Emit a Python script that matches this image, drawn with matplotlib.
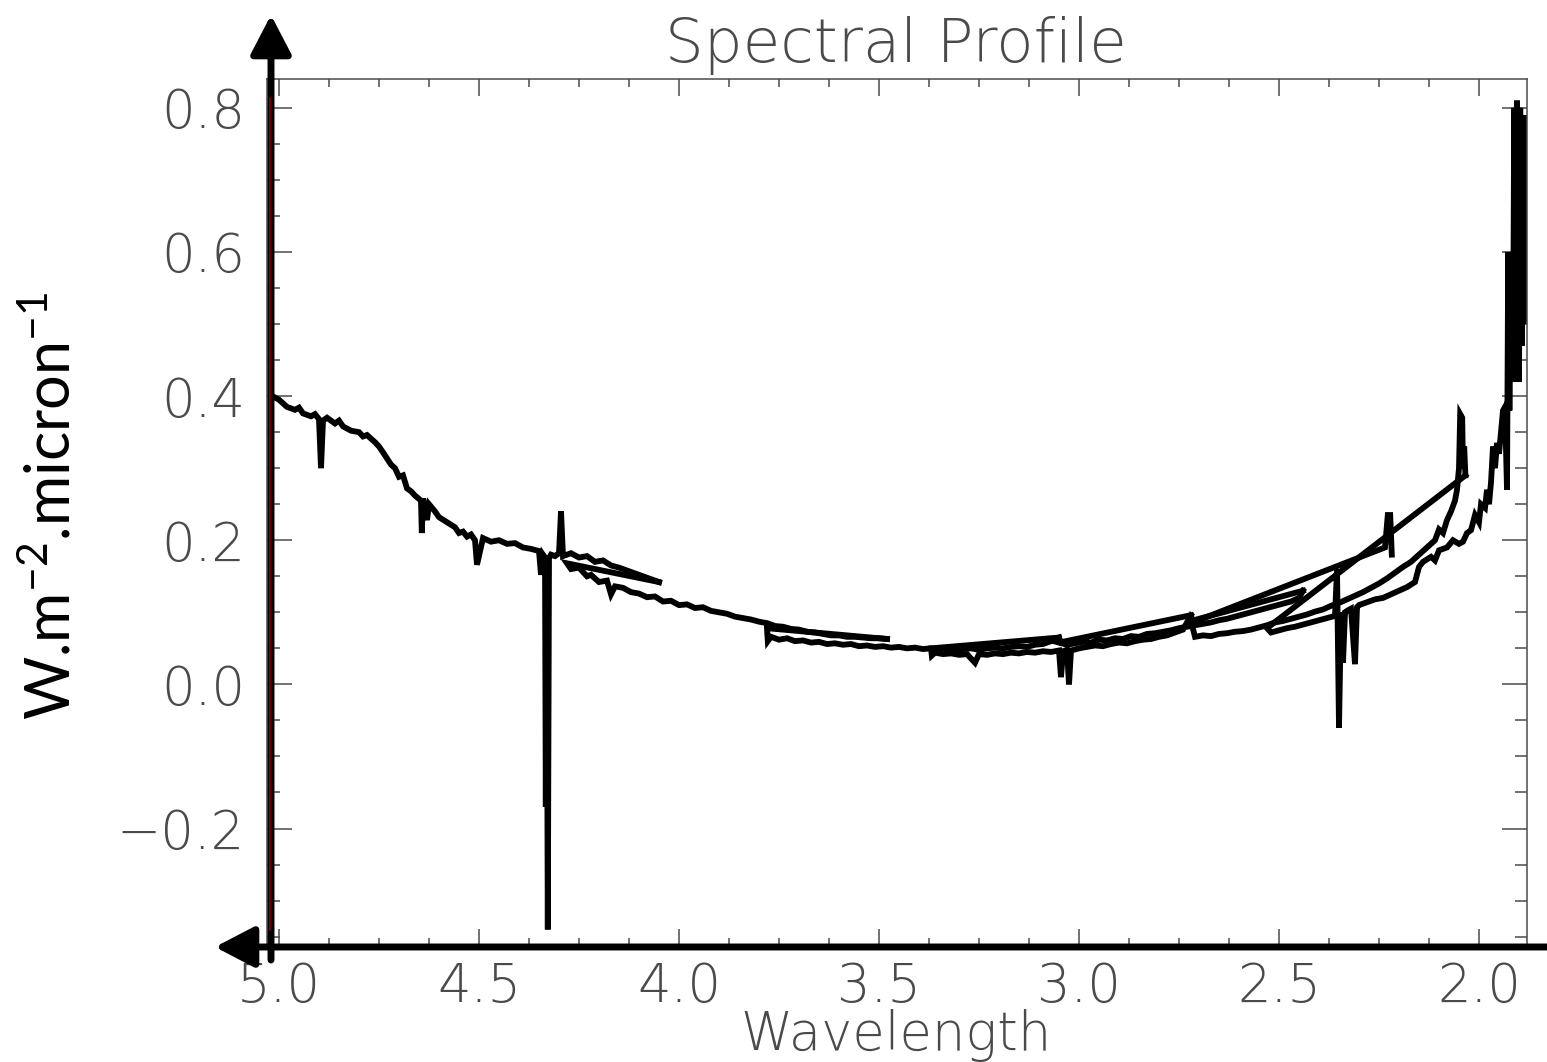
import matplotlib
matplotlib.use("Agg")
import matplotlib.pyplot as plt
from matplotlib.patches import FancyArrowPatch
from matplotlib.ticker import MultipleLocator
from matplotlib.lines import Line2D

plt.rcParams['mathtext.default'] = 'regular'
plt.rcParams['axes.unicode_minus'] = True

# ---------------- data ----------------
title_text = "Spectral Profile"
xlabel_text = "Wavelength"
ylabel_text = "W.m$^{-2}$.micron$^{-1}$"

s1_x = [5.02, 5.00, 4.98, 4.96, 4.95, 4.94, 4.92, 4.91, 4.90, 4.895, 4.89, 4.88, 4.86, 4.85,
        4.84, 4.82, 4.80, 4.79, 4.78, 4.76, 4.75, 4.74, 4.72, 4.71, 4.70, 4.69, 4.68, 4.67,
        4.66, 4.645, 4.643, 4.64, 4.63, 4.625, 4.61, 4.60, 4.58, 4.56, 4.55, 4.54, 4.53, 4.52,
        4.51, 4.505, 4.49, 4.47, 4.45, 4.43, 4.41, 4.39, 4.37, 4.35, 4.345, 4.34, 4.335, 4.333,
        4.331, 4.328, 4.325, 4.32, 4.31, 4.30, 4.295, 4.29, 4.27, 4.25, 4.23, 4.21, 4.19, 4.17,
        4.15, 4.13, 4.11, 4.09, 4.07, 4.05]
s1_y = [0.401, 0.395, 0.385, 0.381, 0.384, 0.376, 0.372, 0.375, 0.368, 0.300, 0.366, 0.370, 0.362, 0.366,
        0.358, 0.352, 0.350, 0.344, 0.346, 0.336, 0.330, 0.322, 0.305, 0.300, 0.288, 0.290, 0.272, 0.268,
        0.262, 0.255, 0.210, 0.258, 0.228, 0.250, 0.240, 0.232, 0.225, 0.218, 0.210, 0.212, 0.205, 0.208,
        0.200, 0.166, 0.203, 0.198, 0.200, 0.195, 0.196, 0.190, 0.188, 0.185, 0.152, 0.180, 0.176, -0.17,
        0.170, -0.34, 0.175, 0.180, 0.178, 0.182, 0.240, 0.178, 0.182, 0.176, 0.178, 0.170, 0.172, 0.165,
        0.162, 0.158, 0.154, 0.150, 0.146, 0.142]

s2_x = [4.05, 4.28, 4.27, 4.25, 4.23, 4.22, 4.20, 4.18, 4.17, 4.16, 4.14, 4.12, 4.10, 4.08, 4.06,
        4.04, 4.02, 4.00, 3.98, 3.96, 3.94, 3.92, 3.90, 3.88, 3.86, 3.84, 3.82, 3.80, 3.78, 3.76,
        3.74, 3.72, 3.70, 3.68, 3.66, 3.64, 3.62, 3.60, 3.58, 3.56, 3.54, 3.52, 3.50, 3.48]
s2_y = [0.142, 0.168, 0.160, 0.162, 0.150, 0.152, 0.142, 0.144, 0.125, 0.136, 0.134, 0.128, 0.126, 0.121, 0.122,
        0.115, 0.116, 0.110, 0.111, 0.106, 0.107, 0.102, 0.100, 0.098, 0.094, 0.092, 0.090, 0.087, 0.085, 0.081,
        0.080, 0.077, 0.076, 0.073, 0.072, 0.070, 0.068, 0.068, 0.066, 0.066, 0.065, 0.064, 0.064, 0.063]

s3_x = [3.48, 3.78, 3.778, 3.77, 3.75, 3.73, 3.71, 3.69, 3.67, 3.65, 3.63, 3.61, 3.59, 3.57, 3.55,
        3.53, 3.51, 3.49, 3.47, 3.45, 3.43, 3.41, 3.39, 3.37, 3.35, 3.33, 3.31, 3.29, 3.27, 3.25,
        3.23, 3.21, 3.19, 3.17, 3.15, 3.13, 3.11, 3.09, 3.07, 3.05]
s3_y = [0.063, 0.078, 0.060, 0.066, 0.062, 0.064, 0.060, 0.061, 0.058, 0.059, 0.056, 0.057, 0.055, 0.056, 0.053,
        0.054, 0.052, 0.053, 0.051, 0.052, 0.050, 0.051, 0.049, 0.050, 0.049, 0.050, 0.048, 0.049, 0.050, 0.048,
        0.050, 0.051, 0.050, 0.052, 0.053, 0.052, 0.055, 0.056, 0.060, 0.065]

s4_x = [3.05, 3.37, 3.368, 3.36, 3.34, 3.32, 3.30, 3.28, 3.26, 3.25, 3.23, 3.21, 3.19, 3.17, 3.15,
        3.13, 3.11, 3.09, 3.07, 3.05, 3.045, 3.04, 3.03, 3.025, 3.02, 3.00, 2.98, 2.96, 2.94, 2.92,
        2.90, 2.88, 2.86, 2.84, 2.82, 2.80, 2.78, 2.76, 2.74, 2.72]
s4_y = [0.065, 0.050, 0.040, 0.044, 0.042, 0.043, 0.041, 0.042, 0.030, 0.042, 0.041, 0.043, 0.042, 0.044, 0.043,
        0.045, 0.044, 0.046, 0.045, 0.047, 0.010, 0.046, 0.048, 0.000, 0.047, 0.050, 0.052, 0.054, 0.053, 0.056,
        0.058, 0.057, 0.060, 0.062, 0.063, 0.066, 0.068, 0.072, 0.076, 0.096]

s5_x = [2.72, 3.05, 3.03, 3.01, 2.99, 2.97, 2.95, 2.93, 2.91, 2.89, 2.87, 2.85, 2.83, 2.81, 2.79,
        2.77, 2.75, 2.73, 2.71, 2.69, 2.67, 2.65, 2.63, 2.61, 2.59, 2.57, 2.55, 2.53, 2.51, 2.49,
        2.47, 2.45, 2.44]
s5_y = [0.096, 0.058, 0.055, 0.057, 0.059, 0.058, 0.062, 0.061, 0.064, 0.063, 0.067, 0.066, 0.070, 0.071, 0.073,
        0.075, 0.078, 0.080, 0.082, 0.084, 0.086, 0.089, 0.091, 0.094, 0.097, 0.100, 0.103, 0.106, 0.109, 0.112,
        0.115, 0.120, 0.130]

s6_x = [2.44, 2.72, 2.71, 2.69, 2.67, 2.65, 2.63, 2.61, 2.59, 2.57, 2.55, 2.53, 2.51, 2.49, 2.47,
        2.45, 2.43, 2.41, 2.39, 2.37, 2.35, 2.33, 2.31, 2.29, 2.27, 2.25, 2.23, 2.21, 2.19, 2.17,
        2.15, 2.13, 2.11, 2.10, 2.09, 2.08, 2.07, 2.06, 2.055, 2.05, 2.047, 2.042, 2.04, 2.037, 2.034]
s6_y = [0.130, 0.088, 0.066, 0.068, 0.067, 0.070, 0.071, 0.073, 0.074, 0.076, 0.079, 0.082, 0.086, 0.088, 0.091,
        0.094, 0.097, 0.101, 0.104, 0.109, 0.113, 0.118, 0.123, 0.128, 0.134, 0.140, 0.147, 0.155, 0.163, 0.170,
        0.180, 0.190, 0.200, 0.215, 0.210, 0.228, 0.240, 0.255, 0.270, 0.300, 0.375, 0.370, 0.300, 0.330, 0.290]

s7_x = [2.034, 2.53, 2.52, 2.50, 2.48, 2.46, 2.44, 2.42, 2.40, 2.38, 2.36, 2.355, 2.35, 2.345, 2.34,
        2.335, 2.33, 2.32, 2.31, 2.305, 2.30, 2.28, 2.26, 2.24, 2.22, 2.20, 2.18, 2.16, 2.15, 2.14,
        2.12, 2.11, 2.10, 2.08, 2.065, 2.05, 2.04, 2.03, 2.02, 2.01, 2.00, 1.995, 1.985, 1.98, 1.975,
        1.97, 1.965, 1.96, 1.955, 1.95, 1.94, 1.935, 1.93, 1.927, 1.924, 1.92, 1.915, 1.912, 1.908, 1.905,
        1.90, 1.897, 1.893, 1.89, 1.887, 1.884, 1.882, 1.88]
s7_y = [0.290, 0.078, 0.072, 0.075, 0.078, 0.080, 0.083, 0.086, 0.089, 0.092, 0.095, 0.160, -0.060, 0.100, 0.030,
        0.100, 0.102, 0.105, 0.028, 0.107, 0.110, 0.114, 0.118, 0.120, 0.125, 0.130, 0.135, 0.142, 0.163, 0.170,
        0.177, 0.172, 0.186, 0.190, 0.200, 0.195, 0.198, 0.210, 0.214, 0.235, 0.225, 0.250, 0.245, 0.270, 0.250,
        0.280, 0.330, 0.300, 0.335, 0.320, 0.380, 0.385, 0.270, 0.600, 0.380, 0.600, 0.420, 0.800, 0.470, 0.810,
        0.420, 0.800, 0.470, 0.720, 0.500, 0.790, 0.550, 0.650]

s8_x = [2.72, 2.235, 2.228, 2.222, 2.218]
s8_y = [0.085, 0.190, 0.235, 0.235, 0.180]

segments = [(s1_x, s1_y), (s2_x, s2_y), (s3_x, s3_y), (s4_x, s4_y),
            (s5_x, s5_y), (s6_x, s6_y), (s7_x, s7_y), (s8_x, s8_y)]

x_major, x_minor = 0.5, 0.125
y_major, y_minor = 0.2, 0.05
xlim = (5.03, 1.88)
ylim = (-0.363, 0.840)

# ---------------- figure ----------------
W, H = 1547, 1062
fig = plt.figure(figsize=(W / 100, H / 100), dpi=100)
ax = fig.add_axes([267 / W, 1 - 946 / H, (1527 - 267) / W, (946 - 79) / H])

for sx, sy in segments:
    ax.plot(sx, sy, color='black', lw=4.2, solid_joinstyle='miter')

ax.set_xlim(*xlim)
ax.set_ylim(*ylim)
ax.xaxis.set_major_locator(MultipleLocator(x_major))
ax.xaxis.set_minor_locator(MultipleLocator(x_minor))
ax.yaxis.set_major_locator(MultipleLocator(y_major))
ax.yaxis.set_minor_locator(MultipleLocator(y_minor))

gray = '#4a4a4a'
tfam = ['DejaVu Sans']
lab_font = dict(family=tfam, weight=200, size=38, color=gray)
ax.tick_params(axis='both', which='both', direction='in', top=True, right=True,
               color=gray, width=1.1)
ax.tick_params(axis='x', which='major', length=12.2, pad=11)
ax.tick_params(axis='x', which='minor', length=6.1)
ax.tick_params(axis='y', which='major', length=18, pad=16)
ax.tick_params(axis='y', which='minor', length=9)
fig.canvas.draw()
for lab in ax.get_xticklabels() + ax.get_yticklabels():
    lab.set_fontfamily(tfam)
    lab.set_fontweight(200)
    lab.set_fontsize(38)
    lab.set_color(gray)
for sp in ax.spines.values():
    sp.set_color(gray)
    sp.set_linewidth(1.1)

fig.text(896 / W, 1 - 62 / H, title_text, ha='center', va='baseline',
         family=tfam, weight=200, size=44, color=gray)
fig.text(896 / W, 1 - 1050 / H, xlabel_text, ha='center', va='baseline', **lab_font)
fig.text(52 / W, 1 - 506 / H, ylabel_text, rotation=90, ha='center', va='center',
         family=['Lato', 'DejaVu Sans'], size=44, color='black')

# axis arrows drawn over the plot
arr_v = FancyArrowPatch((271 / W, 1 - 960 / H), (271 / W, 1 - 15 / H), transform=fig.transFigure,
                        arrowstyle='-|>,head_length=2.4,head_width=1.25', mutation_scale=10,
                        color='black', lw=5, shrinkA=0, shrinkB=0)
arr_h = FancyArrowPatch((W / W, 1 - 947 / H), (215 / W, 1 - 947 / H), transform=fig.transFigure,
                        arrowstyle='-|>,head_length=2.4,head_width=1.25', mutation_scale=10,
                        color='black', lw=5, shrinkA=0, shrinkB=0)
fig.patches.extend([arr_v, arr_h])
fig.lines.append(Line2D([269.5 / W, 269.5 / W], [1 - 930 / H, 1 - 98 / H],
                        transform=fig.transFigure, color='#8b0000', lw=1.2))

fig.savefig('out.png', dpi=100)
